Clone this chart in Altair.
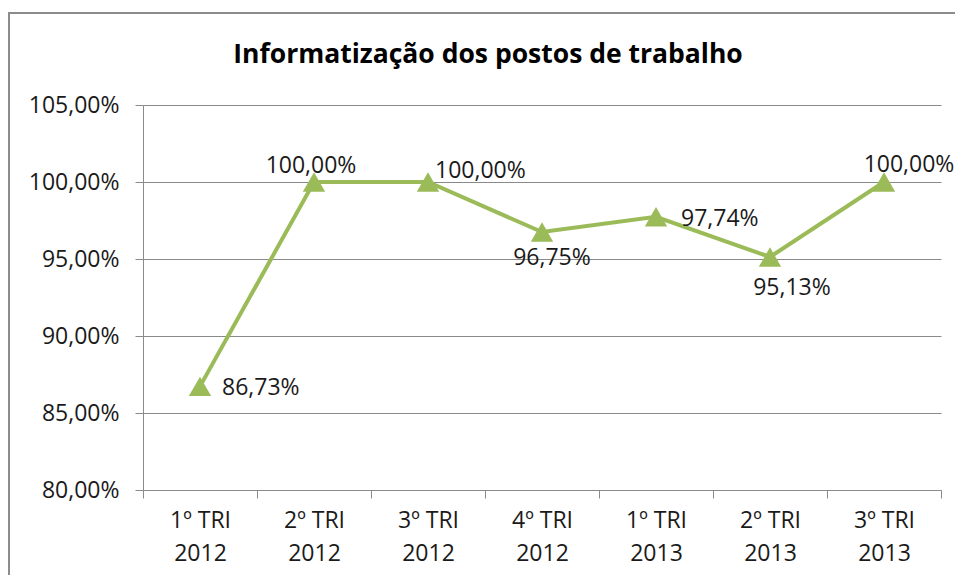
import altair as alt
import pandas as pd

# ---- data ----
categories = ["1º TRI|2012", "2º TRI|2012", "3º TRI|2012", "4º TRI|2012",
              "1º TRI|2013", "2º TRI|2013", "3º TRI|2013"]
values = [86.73, 100.00, 100.00, 96.75, 97.74, 95.13, 100.00]
y_ticks = [80, 85, 90, 95, 100, 105]
title_text = "Informatização dos postos de trabalho"

df = pd.DataFrame({"cat": categories, "val": values, "idx": list(range(len(values)))})

W, H = 798, 385
GREEN = "#9BBB59"
GRID = "#8a8a8a"
FONT = "Open Sans"
TXT = "#1a1a1a"

x_enc = alt.X("cat:N", sort=categories,
              scale=alt.Scale(paddingInner=0, paddingOuter=0),
              axis=alt.Axis(title=None, labelAngle=0, tickBand="extent",
                            labelExpr="split(datum.label, '|')",
                            labelLineHeight=33, labelFontSize=23, labelFont=FONT,
                            labelColor=TXT, labelPadding=11, tickSize=8,
                            tickColor=GRID, domainColor=GRID, grid=False))
x_plain = alt.X("cat:N", sort=categories)
y_enc = alt.Y("val:Q",
              scale=alt.Scale(domain=[80, 105], nice=False, zero=False),
              axis=alt.Axis(title=None, values=y_ticks,
                            labelExpr="replace(format(datum.value, '.2f'), '.', ',') + '%'",
                            labelFontSize=23, labelFont=FONT, labelColor=TXT,
                            labelPadding=16, tickSize=8, tickColor=GRID,
                            domainColor=GRID, gridColor=GRID, gridOpacity=1))

base = alt.Chart(df)

line = base.mark_line(color=GREEN, strokeWidth=4).encode(x=x_enc, y=y_enc)
pts = base.mark_point(shape="triangle-up", filled=True, color=GREEN, size=500,
                      opacity=1).encode(x=x_plain, y="val:Q")

# label placement styles per point: (dx, dy, align)
label_styles = [(22, 2, "left"), (-3, -16, "center"), (7, -11, "left"),
                (10, 26, "center"), (25, 2, "left"), (22, 31, "center"),
                (25, -17, "center")]
labels = []
for i, (dx, dy, al) in enumerate(label_styles):
    labels.append(
        base.transform_filter(alt.datum.idx == i)
        .transform_calculate(lbl="replace(format(datum.val, '.2f'), '.', ',') + '%'")
        .mark_text(dx=dx, dy=dy, align=al, baseline="middle", fontSize=23,
                   font=FONT, color=TXT)
        .encode(x=x_plain, y="val:Q", text="lbl:N")
    )

one = pd.DataFrame({"t": [title_text]})
frame = alt.Chart(one).mark_rect(
    fillOpacity=0, stroke="#8c8c8c", strokeWidth=2
).encode(x=alt.value(-134), x2=alt.value(W + 60), y=alt.value(-92), y2=alt.value(H + 150))

title = alt.Chart(one).mark_text(
    fontSize=26.5, font=FONT, fontWeight="bold", color="#000000",
    align="center", baseline="middle"
).encode(x=alt.value(488 - 143), y=alt.value(55 - 105), text="t:N")

chart = alt.layer(frame, title, line, pts, *labels).properties(
    width=W, height=H,
    padding={"left": 135, "top": 97, "right": 14, "bottom": 85},
    autosize="none",
).configure_view(stroke=None).configure_axis(domainWidth=1, gridWidth=1)

chart.save("out.html", embed_options={"renderer": "svg", "actions": False})
